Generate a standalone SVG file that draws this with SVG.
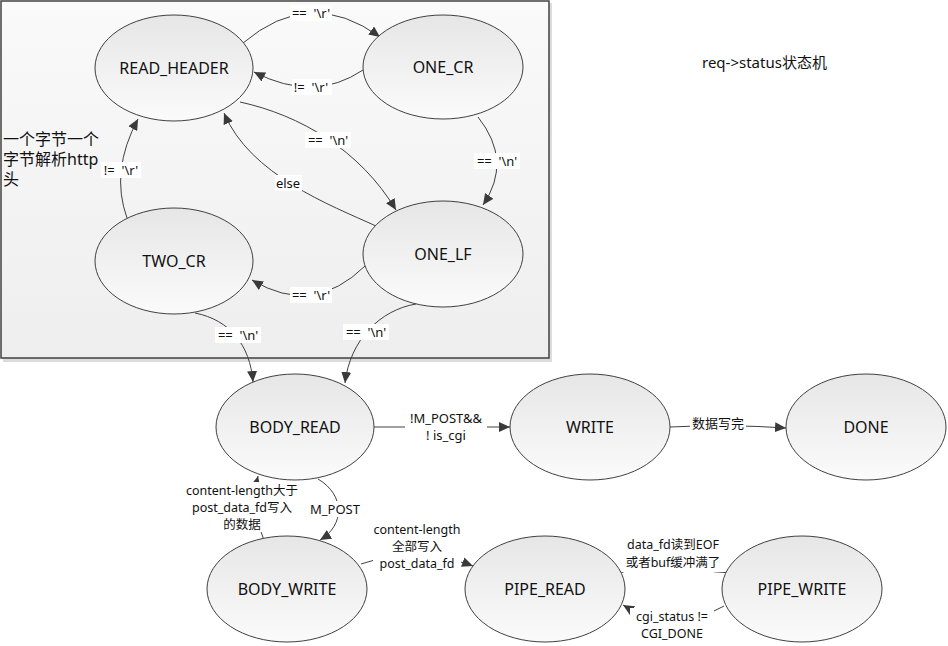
<svg xmlns="http://www.w3.org/2000/svg" width="948" height="646" viewBox="0 0 948 646">
<defs>
<linearGradient id="nodeFill" x1="0" y1="0" x2="0" y2="1">
<stop offset="0" stop-color="#e6e6e6"/>
<stop offset="1" stop-color="#fbfbfb"/>
</linearGradient>
<linearGradient id="frameFill" x1="0" y1="0" x2="0" y2="1">
<stop offset="0" stop-color="#fafafa"/>
<stop offset="1" stop-color="#eeeeee"/>
</linearGradient>
<marker id="arr" markerUnits="userSpaceOnUse" markerWidth="12" markerHeight="10" refX="11" refY="5" orient="auto">
<path d="M0,0 L11,5 L0,10 Z" fill="#3a3a3a"/>
</marker>
<style>
.node ellipse{fill:url(#nodeFill);stroke:#404040;stroke-width:1}
.node text{font-family:"Noto Sans","Noto Sans CJK SC",sans-serif;font-size:16px;fill:#111;text-anchor:middle}
.edge{fill:none;stroke:#404040;stroke-width:1;marker-end:url(#arr)}
.lbg{fill:#ffffff}
.lbl{font-family:"Noto Sans","Noto Sans CJK SC",sans-serif;font-size:13px;fill:#111;text-anchor:middle}
.sm{font-size:12.5px}
.note{font-family:"Noto Sans","Noto Sans CJK SC",sans-serif;fill:#111}
</style>
</defs>
<rect width="948" height="646" fill="#ffffff"/>
<g id="frame">
<rect x="3" y="3" width="549" height="359" fill="#dcdcdc"/>
<rect x="1" y="1" width="548" height="357" fill="url(#frameFill)" stroke="#404040" stroke-width="1.5"/>
</g>
<g id="connectors">
<path class="edge" d="M243,43 Q310,-14 380,37"/>
<path class="edge" d="M363,70 Q314,103 254,72"/>
<path class="edge" d="M240,102 C300,115 360,150 396,210"/>
<path class="edge" d="M376,226 C330,205 250,175 224,113"/>
<path class="edge" d="M478,117 Q513,161 483,205"/>
<path class="edge" d="M365,266 Q313,317 252,280"/>
<path class="edge" d="M127,218 Q110,171 138,119"/>
<path class="edge" d="M195,313 C230,320 250,345 253,382"/>
<path class="edge" d="M416,304 C380,310 350,340 345,383"/>
<path class="edge" d="M374,427 L510,427"/>
<path class="edge" d="M670,427 Q728,424 786,428"/>
<path class="edge" d="M318,479 C345,495 345,525 320,540"/>
<path class="edge" d="M264,540 Q250,510 258,476"/>
<path class="edge" d="M361,564 Q417,545 473,566"/>
<path class="edge" d="M621,573 Q673,545 726,573"/>
<path class="edge" d="M724,606 Q673,635 623,605"/>
</g>
<g id="labels">
<rect class="lbg" x="290" y="5" width="42" height="16"/>
<text class="lbl" x="311" y="17.5">==&#160;&#160;'\r'</text>
<rect class="lbg" x="292" y="79" width="40" height="16"/>
<text class="lbl" x="311" y="91.5">!=&#160;&#160;'\r'</text>
<rect class="lbg" x="305" y="132" width="46" height="16"/>
<text class="lbl" x="328" y="144.5">==&#160;&#160;'\n'</text>
<rect class="lbg" x="275" y="175" width="27" height="16"/>
<text class="lbl" x="288" y="187.5">else</text>
<rect class="lbg" x="474" y="153" width="46" height="16"/>
<text class="lbl" x="497" y="165.5">==&#160;&#160;'\n'</text>
<rect class="lbg" x="290" y="287" width="42" height="16"/>
<text class="lbl" x="311" y="299.5">==&#160;&#160;'\r'</text>
<rect class="lbg" x="101" y="162" width="40" height="16"/>
<text class="lbl" x="121" y="174.5">!=&#160;&#160;'\r'</text>
<rect class="lbg" x="215" y="327" width="46" height="16"/>
<text class="lbl" x="238" y="339.5">==&#160;&#160;'\n'</text>
<rect class="lbg" x="343" y="324" width="46" height="16"/>
<text class="lbl" x="366" y="336.5">==&#160;&#160;'\n'</text>
<rect class="lbg" x="405" y="409" width="82" height="35"/>
<text class="lbl" x="446" y="423">!M_POST&amp;&amp;</text>
<text class="lbl" x="446" y="440">! is_cgi</text>
<rect class="lbg" x="690" y="415" width="56" height="16"/>
<text class="lbl" x="718" y="427.5">数据写完</text>
<rect class="lbg" x="309" y="501" width="52" height="16"/>
<text class="lbl" x="335" y="513.5">M_POST</text>
<rect class="lbg" x="180" y="482" width="124" height="50"/>
<text class="lbl sm" x="242" y="495">content-length大于</text>
<text class="lbl sm" x="242" y="512">post_data_fd写入</text>
<text class="lbl sm" x="242" y="529">的数据</text>
<rect class="lbg" x="373" y="520" width="88" height="50"/>
<text class="lbl sm" x="417" y="533.5">content-length</text>
<text class="lbl sm" x="417" y="550.5">全部写入</text>
<text class="lbl sm" x="417" y="567.5">post_data_fd</text>
<rect class="lbg" x="620" y="536" width="106" height="36"/>
<text class="lbl sm" x="673" y="549">data_fd读到EOF</text>
<text class="lbl sm" x="673" y="566.5">或者buf缓冲满了</text>
<rect class="lbg" x="630" y="608" width="84" height="34"/>
<text class="lbl sm" x="672" y="620.5">cgi_status !=</text>
<text class="lbl sm" x="672" y="637.5">CGI_DONE</text>
</g>
<g id="READ_HEADER" class="node"><ellipse cx="174" cy="68" rx="79" ry="53"/><text x="174" y="74">READ_HEADER</text></g>
<g id="ONE_CR" class="node"><ellipse cx="443" cy="67" rx="80" ry="52"/><text x="443" y="73">ONE_CR</text></g>
<g id="TWO_CR" class="node"><ellipse cx="174" cy="261" rx="79" ry="53"/><text x="174" y="267">TWO_CR</text></g>
<g id="ONE_LF" class="node"><ellipse cx="443" cy="254" rx="80" ry="53"/><text x="443" y="260">ONE_LF</text></g>
<g id="BODY_READ" class="node"><ellipse cx="295" cy="427" rx="79" ry="53"/><text x="295" y="433">BODY_READ</text></g>
<g id="WRITE" class="node"><ellipse cx="590" cy="427" rx="80" ry="53"/><text x="590" y="433">WRITE</text></g>
<g id="DONE" class="node"><ellipse cx="866" cy="427" rx="80" ry="53"/><text x="866" y="433">DONE</text></g>
<g id="BODY_WRITE" class="node"><ellipse cx="287" cy="589" rx="80" ry="53"/><text x="287" y="595">BODY_WRITE</text></g>
<g id="PIPE_READ" class="node"><ellipse cx="545" cy="589" rx="80" ry="53"/><text x="545" y="595">PIPE_READ</text></g>
<g id="PIPE_WRITE" class="node"><ellipse cx="802" cy="589" rx="80" ry="53"/><text x="802" y="595">PIPE_WRITE</text></g>
<g id="notes">
<text class="note" font-size="16" x="3" y="145">一个字节一个</text>
<text class="note" font-size="16" x="3" y="165">字节解析http</text>
<text class="note" font-size="16" x="3" y="185">头</text>
<text class="note" font-size="15" x="702" y="68">req-&gt;status状态机</text>
</g>
</svg>
